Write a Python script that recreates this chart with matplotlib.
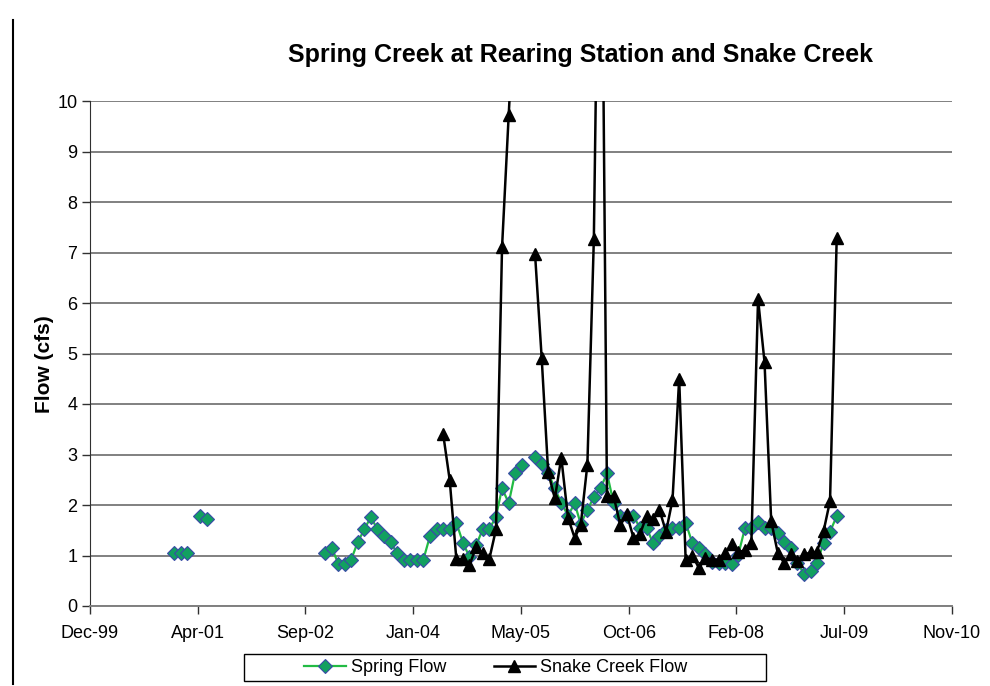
import numpy as np
import pandas as pd
import matplotlib
matplotlib.use("Agg")
import matplotlib.pyplot as plt
import matplotlib.dates as mdates
from matplotlib.lines import Line2D
from matplotlib.patches import Rectangle

plt.rcParams['font.family'] = ['Liberation Sans', 'DejaVu Sans']

# Spring flow, early readings (no reading for Apr-01)
early_dates = pd.to_datetime(["2001-01-01", "2001-02-01", "2001-03-01",
                              "2001-04-01", "2001-05-01", "2001-06-01"])
early_flow = [1.04, 1.04, 1.04, np.nan, 1.79, 1.72]

# Spring flow, monthly Dec-02 .. Jun-09 (Jul-05 missing)
spring_months = pd.date_range("2002-12-01", "2009-06-01", freq="MS")
spring_flow = [1.04, 1.15, 0.83, 0.83, 0.92, 1.26, 1.52, 1.76, 1.52, 1.39,
               1.26, 1.04, 0.92, 0.92, 0.92, 0.92, 1.39, 1.53, 1.53, 1.53,
               1.65, 1.25, 0.97, 1.20, 1.52, 1.52, 1.77, 2.33, 2.04, 2.64,
               2.80, np.nan, 2.95, 2.81, 2.63, 2.33, 2.04, 1.79, 2.03, 1.63,
               1.90, 2.16, 2.33, 2.63, 2.03, 1.78, 1.79, 1.79, 1.54, 1.54,
               1.24, 1.39, 1.50, 1.54, 1.54, 1.65, 1.25, 1.14, 1.03, 0.87,
               0.85, 0.85, 0.84, 1.01, 1.54, 1.54, 1.67, 1.54, 1.54, 1.44,
               1.27, 1.14, 0.85, 0.63, 0.70, 0.85, 1.25, 1.47, 1.78]

# Snake Creek flow, monthly Jun-04 .. Jun-09 (Jun/Jul-05 missing)
snake_months = pd.date_range("2004-06-01", "2009-06-01", freq="MS")
snake_flow = [3.40, 2.50, 0.93, 0.93, 0.81, 1.17, 1.04, 0.93, 1.52, 7.10,
              9.73, 12.2, np.nan, np.nan, 6.98, 4.91, 2.65, 2.13, 2.94, 1.75,
              1.35, 1.60, 2.80, 7.26, 17.0, 2.18, 2.17, 1.60, 1.82, 1.35,
              1.42, 1.79, 1.72, 1.91, 1.47, 2.10, 4.50, 0.92, 1.00, 0.75,
              0.95, 0.92, 0.92, 1.05, 1.22, 1.07, 1.10, 1.25, 6.08, 4.83,
              1.68, 1.04, 0.85, 1.02, 0.90, 1.02, 1.06, 1.07, 1.48, 2.08,
              7.28]

# date axis: every 500 days from Dec-99
excel_epoch = pd.Timestamp("1899-12-30")
xticks = excel_epoch + pd.to_timedelta(np.arange(36500, 40501, 500), unit="D")

fig = plt.figure(figsize=(9.9, 6.86), dpi=100)
ax = fig.add_axes([90/990, 80/686, 862/990, 505/686])

spring_style = dict(color="#22bb44", lw=1.6, marker="D", markersize=7,
                    markerfacecolor="#12a060", markeredgecolor="#3a4aa8",
                    markeredgewidth=0.8)
ax.plot(early_dates, early_flow, **spring_style)
ax.plot(spring_months, spring_flow, label="Spring Flow", **spring_style)
ax.plot(snake_months, snake_flow, color="black", lw=1.8, marker="^",
        markersize=9, label="Snake Creek Flow")

ax.set_ylim(0, 10)
ax.set_yticks(range(0, 11))
ax.set_xlim(xticks[0], xticks[-1])
ax.set_xticks(xticks)
ax.xaxis.set_major_formatter(mdates.DateFormatter("%b-%y"))
ax.tick_params(labelsize=13, length=6, width=1, colors="#303030")
ax.tick_params(axis="both", labelcolor="black")
ax.tick_params(axis="x", pad=8)
ax.tick_params(axis="y", pad=3)

ax.grid(axis="y", color="#808080", lw=1.4)
ax.set_axisbelow(True)
for s in ["top", "right"]:
    ax.spines[s].set_visible(False)
ax.spines["left"].set_color("#303030")
ax.spines["bottom"].set_color("#808080")
ax.spines["bottom"].set_linewidth(1.4)

fig.text(581/990, 1 - 55/686, "Spring Creek at Rearing Station and Snake Creek",
         ha="center", va="center", fontsize=18, fontweight="bold")
fig.text(44/990, 1 - 364/686, "Flow (cfs)", rotation=90, ha="center",
         va="center", fontsize=15, fontweight="bold")

# page margin rule on the left
fig.add_artist(Line2D([13/990, 13/990], [1 - 20/686, 1 - 684/686],
                      color="black", lw=1.5))

# legend box drawn wider than its entries
fig.add_artist(Rectangle((244/990, 5/686), 522/990, 27/686, fill=False,
                         edgecolor="black", lw=1.0,
                         transform=fig.transFigure))
ax.legend(loc="center", bbox_to_anchor=(496/990, 18.5/686),
          bbox_transform=fig.transFigure, ncol=2, fontsize=13,
          frameon=False, handlelength=2.3, handletextpad=0.3,
          columnspacing=2.6, borderpad=0.2)

fig.savefig("out.png", dpi=100)
